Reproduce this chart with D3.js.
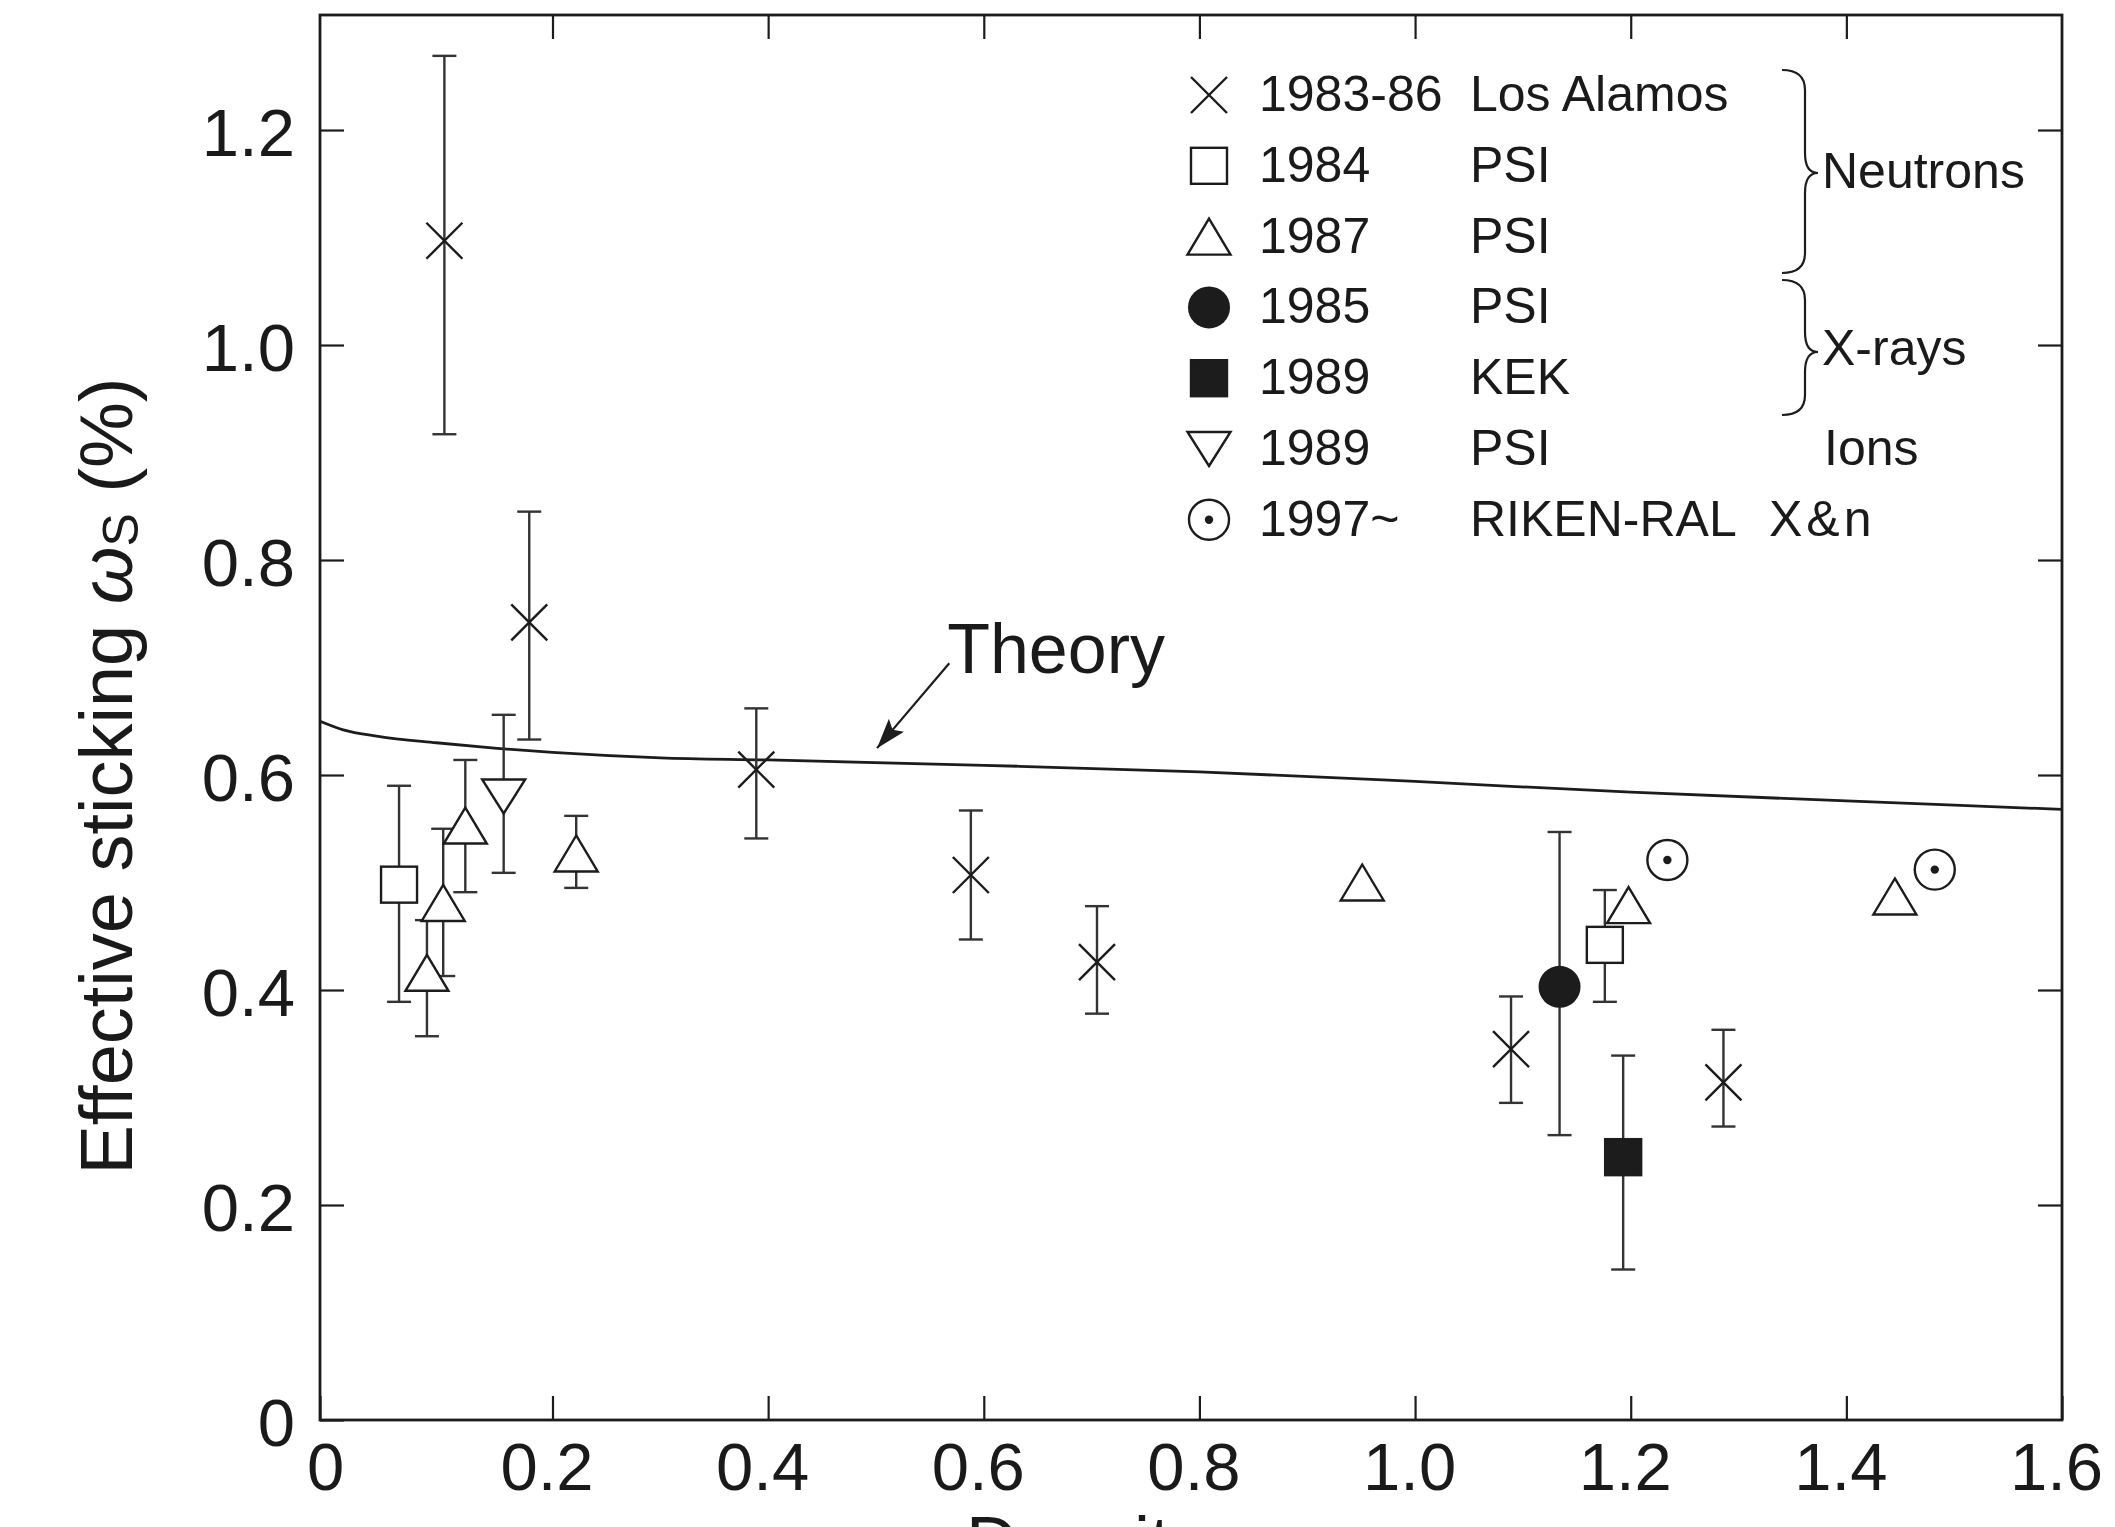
<!DOCTYPE html>
<html>
<head>
<meta charset="utf-8">
<script src="https://cdn.jsdelivr.net/npm/d3@7"></script>
<style>
  body { margin: 0; background: #fff; }
  svg text { font-family: "Liberation Sans", Arial, Helvetica, sans-serif; fill: #1a1a1a; }
</style>
</head>
<body>
<div id="chart"></div>
<script>
// ---- data ----
var theoryX = [0, 0.02, 0.05, 0.1, 0.15, 0.2, 0.3, 0.4, 0.6, 0.8, 1.0, 1.2, 1.4, 1.6];
var theoryY = [0.650, 0.642, 0.636, 0.630, 0.625, 0.621, 0.616, 0.614, 0.609, 0.603, 0.594, 0.584, 0.576, 0.568];

var losAlamosX  = [0.107, 0.180, 0.389, 0.588, 0.705, 1.089, 1.286];
var losAlamosY  = [1.097, 0.742, 0.605, 0.507, 0.426, 0.345, 0.314];
var losAlamosLo = [0.917, 0.633, 0.541, 0.447, 0.378, 0.295, 0.273];
var losAlamosHi = [1.269, 0.845, 0.662, 0.567, 0.478, 0.394, 0.363];

var psi84X  = [0.068, 1.176];
var psi84Y  = [0.498, 0.442];
var psi84Lo = [0.389, 0.389];
var psi84Hi = [0.590, 0.493];

var psi87X  = [0.092, 0.106, 0.125, 0.222, 0.951, 1.198, 1.445];
var psi87Y  = [0.416, 0.481, 0.553, 0.527, 0.500, 0.479, 0.487];
var psi87Lo = [0.357, 0.413, 0.491, 0.495, null, null, null];
var psi87Hi = [0.465, 0.550, 0.614, 0.562, null, null, null];

var psi85X = [1.134], psi85Y = [0.403], psi85Lo = [0.265], psi85Hi = [0.547];
var kek89X = [1.193], kek89Y = [0.2445], kek89Lo = [0.140], kek89Hi = [0.339];
var ions89X = [0.158], ions89Y = [0.580], ions89Lo = [0.509], ions89Hi = [0.656];
var rikenX = [1.234, 1.482], rikenY = [0.521, 0.512];

var xTicks = [0, 0.2, 0.4, 0.6, 0.8, 1.0, 1.2, 1.4, 1.6];
var yTicks = [0, 0.2, 0.4, 0.6, 0.8, 1.0, 1.2];

var legendYears = ["1983-86", "1984", "1987", "1985", "1989", "1989", "1997~"];
var legendLabs  = ["Los Alamos", "PSI", "PSI", "PSI", "KEK", "PSI", "RIKEN-RAL"];
var legendShapes = ["cross", "square", "tri", "dot", "fsquare", "dtri", "odot"];

// ---- layout ----
var svgWidth = 2115;
var svgHeight = 1527;
var margin = { top: 15, right: 53, bottom: 107, left: 320 };
var right = svgWidth - margin.right;
var bottom = svgHeight - margin.bottom;
var ink = "#1c1c1c";

var svg = d3.select("#chart").append("svg")
  .attr("width", svgWidth)
  .attr("height", svgHeight);

// the original frame is drawn a little wider between 0 and 0.2
var x = d3.scaleLinear().domain([0, 0.2, 1.6]).range([margin.left, 552.5, right]);
var y = d3.scaleLinear().domain([0, 1.307]).range([bottom, margin.top]);

function makeSeries(xs, ys, lo, hi) {
  return xs.map(function (d, i) {
    return { x: d, y: ys[i], lo: lo ? lo[i] : null, hi: hi ? hi[i] : null };
  });
}

var series = [
  { shape: "cross",   data: makeSeries(losAlamosX, losAlamosY, losAlamosLo, losAlamosHi) },
  { shape: "square",  data: makeSeries(psi84X, psi84Y, psi84Lo, psi84Hi) },
  { shape: "tri",     data: makeSeries(psi87X, psi87Y, psi87Lo, psi87Hi) },
  { shape: "dtri",    data: makeSeries(ions89X, ions89Y, ions89Lo, ions89Hi) },
  { shape: "dot",     data: makeSeries(psi85X, psi85Y, psi85Lo, psi85Hi) },
  { shape: "fsquare", data: makeSeries(kek89X, kek89Y, kek89Lo, kek89Hi) },
  { shape: "odot",    data: makeSeries(rikenX, rikenY) }
];

// ---- axes, ticks on all four sides pointing in ----
var fontTick = 67;

var xAxis = svg.append("g")
  .attr("transform", `translate(0, ${bottom})`)
  .call(d3.axisBottom(x).tickValues(xTicks).tickSizeInner(-24).tickSizeOuter(0)
    .tickPadding(22).tickFormat(function (d) { return d === 0 ? "0" : d3.format(".1f")(d); }));
xAxis.selectAll("text")
  .style("font-size", fontTick + "px")
  .attr("dx", function (d) { return d === 0 ? 5 : -6; });

var yAxis = svg.append("g")
  .attr("transform", `translate(${margin.left}, 0)`)
  .call(d3.axisLeft(y).tickValues(yTicks).tickSizeInner(-24).tickSizeOuter(0)
    .tickPadding(25).tickFormat(function (d) { return d === 0 ? "0" : d3.format(".1f")(d); }));
yAxis.selectAll("text")
  .style("font-size", fontTick + "px")
  .attr("dy", "0.38em");

svg.append("g")
  .attr("transform", `translate(0, ${margin.top})`)
  .call(d3.axisTop(x).tickValues(xTicks.slice(1, -1)).tickSizeInner(-24).tickSizeOuter(0).tickFormat(""));

svg.append("g")
  .attr("transform", `translate(${right}, 0)`)
  .call(d3.axisRight(y).tickValues(yTicks.slice(1)).tickSizeInner(-24).tickSizeOuter(0).tickFormat(""));

svg.selectAll(".domain").remove();
svg.selectAll(".tick line").attr("stroke", ink).attr("stroke-width", 2.2);

svg.append("rect")
  .attr("x", margin.left)
  .attr("y", margin.top)
  .attr("width", right - margin.left)
  .attr("height", bottom - margin.top)
  .attr("fill", "none")
  .attr("stroke", ink)
  .attr("stroke-width", 2.8);

// axis titles
var yLabel = svg.append("text")
  .attr("transform", "translate(132, 776) rotate(-90)")
  .attr("text-anchor", "middle")
  .style("font-size", "74px");
yLabel.append("tspan").text("Effective sticking ");
yLabel.append("tspan").text("\u03C9").style("font-style", "italic");
yLabel.append("tspan").text("S").attr("baseline-shift", "-0.12em").style("font-size", "50px");
yLabel.append("tspan").text(" (%)");

var xLabel = svg.append("text")
  .attr("x", 966)
  .attr("y", 1567)
  .style("font-size", "72px");
xLabel.append("tspan").text("Density ");
xLabel.append("tspan").text("\u03C6").style("font-style", "italic");

// ---- theory curve ----
var theory = theoryX.map(function (d, i) { return [d, theoryY[i]]; });
svg.append("path")
  .datum(theory)
  .attr("fill", "none")
  .attr("stroke", ink)
  .attr("stroke-width", 2.8)
  .attr("d", d3.line()
    .x(function (d) { return x(d[0]); })
    .y(function (d) { return y(d[1]); })
    .curve(d3.curveMonotoneX));

// annotation arrow + label
svg.append("defs").append("marker")
  .attr("id", "head")
  .attr("markerUnits", "userSpaceOnUse")
  .attr("viewBox", "0 0 30 20")
  .attr("refX", 30).attr("refY", 10)
  .attr("markerWidth", 30).attr("markerHeight", 20)
  .attr("orient", "auto")
  .append("path")
  .attr("d", "M0,0 L30,10 L0,20 L6,10 Z")
  .attr("fill", ink);

svg.append("line")
  .attr("x1", x(0.568)).attr("y1", y(0.704))
  .attr("x2", x(0.501)).attr("y2", y(0.625))
  .attr("stroke", ink)
  .attr("stroke-width", 2.2)
  .attr("marker-end", "url(#head)");

svg.append("text")
  .attr("x", x(0.566))
  .attr("y", y(0.695))
  .style("font-size", "70px")
  .text("Theory");

// ---- markers ----
function drawShape(g, shape) {
  if (shape === "cross") {
    g.append("path").attr("d", "M-18,-18L18,18M-18,18L18,-18")
      .attr("stroke", ink).attr("stroke-width", 2.4).attr("fill", "none");
  } else if (shape === "square" || shape === "fsquare") {
    g.append("rect").attr("x", -18).attr("y", -18).attr("width", 36).attr("height", 36)
      .attr("fill", shape === "square" ? "#fff" : ink)
      .attr("stroke", ink).attr("stroke-width", 2.4);
  } else if (shape === "tri") {
    g.append("path").attr("d", "M0,-18L21.5,18L-21.5,18Z")
      .attr("fill", "#fff").attr("stroke", ink).attr("stroke-width", 2.4);
  } else if (shape === "dtri") {
    g.append("path").attr("d", "M0,17L21.5,-17L-21.5,-17Z")
      .attr("fill", "#fff").attr("stroke", ink).attr("stroke-width", 2.4);
  } else if (shape === "dot") {
    g.append("circle").attr("r", 21).attr("fill", ink);
  } else if (shape === "odot") {
    g.append("circle").attr("r", 20).attr("fill", "#fff").attr("stroke", ink).attr("stroke-width", 2.4);
    g.append("circle").attr("r", 4.2).attr("fill", ink);
  }
}

var errs = [];
series.forEach(function (s) {
  s.data.forEach(function (d) { if (d.lo !== null) errs.push(d); });
});

var errGroup = svg.append("g")
  .attr("stroke", "#333")
  .attr("stroke-width", 2.4);

errGroup.selectAll("line.bar")
  .data(errs)
  .enter()
  .append("line")
  .attr("x1", function (d) { return x(d.x); })
  .attr("x2", function (d) { return x(d.x); })
  .attr("y1", function (d) { return y(d.lo); })
  .attr("y2", function (d) { return y(d.hi); });

["lo", "hi"].forEach(function (k) {
  errGroup.selectAll("line.cap-" + k)
    .data(errs)
    .enter()
    .append("line")
    .attr("x1", function (d) { return x(d.x) - 12; })
    .attr("x2", function (d) { return x(d.x) + 12; })
    .attr("y1", function (d) { return y(d[k]); })
    .attr("y2", function (d) { return y(d[k]); });
});

series.forEach(function (s) {
  svg.append("g").selectAll("g")
    .data(s.data)
    .enter()
    .append("g")
    .attr("transform", function (d) { return `translate(${x(d.x)}, ${y(d.y)})`; })
    .each(function () { drawShape(d3.select(this), s.shape); });
});

// ---- legend ----
var legend = svg.append("g");
var rowY = function (i) { return 95 + i * 70.8; };

legendShapes.forEach(function (shape, i) {
  var row = legend.append("g").attr("transform", `translate(1209, ${rowY(i)})`);
  drawShape(row, shape);
  legend.append("text").attr("x", 1259).attr("y", rowY(i) + 16)
    .style("font-size", "50px").text(legendYears[i]);
  legend.append("text").attr("x", 1470).attr("y", rowY(i) + 16)
    .style("font-size", "50px").text(legendLabs[i]);
});

function brace(top, bot, mid) {
  var x0 = 1782, xs = 1805, xp = 1818, r = 20;
  return `M${x0},${top} Q${xs},${top} ${xs},${top + r} L${xs},${mid - r} Q${xs},${mid} ${xp},${mid}` +
         ` Q${xs},${mid} ${xs},${mid + r} L${xs},${bot - r} Q${xs},${bot} ${x0},${bot}`;
}

legend.append("path").attr("d", brace(70, 273, 173))
  .attr("fill", "none").attr("stroke", ink).attr("stroke-width", 2.2);
legend.append("path").attr("d", brace(280, 415, 352))
  .attr("fill", "none").attr("stroke", ink).attr("stroke-width", 2.2);

legend.append("text").attr("x", 1822).attr("y", 188).style("font-size", "50px").text("Neutrons");
legend.append("text").attr("x", 1822).attr("y", 365).style("font-size", "50px").text("X-rays");
legend.append("text").attr("x", 1824).attr("y", rowY(5) + 16).style("font-size", "50px").text("Ions");
legend.append("text").attr("x", 1769).attr("y", rowY(6) + 16).style("font-size", "50px")
  .style("letter-spacing", "4px").text("X&n");
</script>
</body>
</html>
